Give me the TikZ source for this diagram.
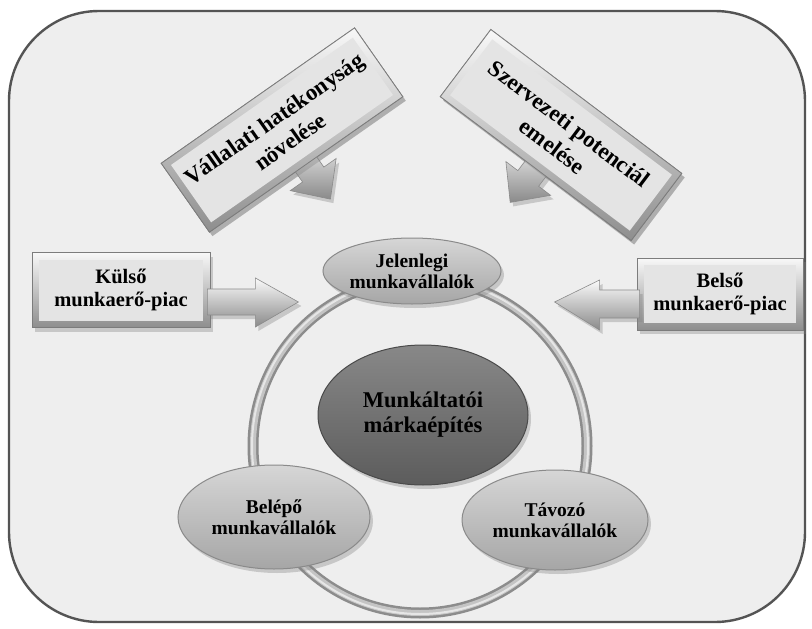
\documentclass[tikz,border=0pt]{standalone}
\usepackage{fontspec}
\setmainfont{Liberation Serif}
\usetikzlibrary{shadows,calc,shapes.geometric}
\definecolor{bgc}{HTML}{EEEEEE}
\definecolor{framec}{HTML}{545454}
\definecolor{facec}{HTML}{E4E4E4}
\definecolor{bevlight}{HTML}{F8F8F8}
\definecolor{bevdark}{HTML}{8E8E8E}
\definecolor{edgec}{HTML}{7C7C7C}
\definecolor{elltop}{HTML}{D6D6D6}
\definecolor{ellbot}{HTML}{A6A6A6}
\definecolor{ellrim}{HTML}{8A8A8A}
\definecolor{ctrtop}{HTML}{888888}
\definecolor{ctrbot}{HTML}{5C5C5C}
\definecolor{ringdark}{HTML}{8C8C8C}
\definecolor{ringmid}{HTML}{C4C4C4}
\definecolor{ringlight}{HTML}{E6E6E6}
\definecolor{arrlight}{HTML}{FAFAFA}
\definecolor{arrdark}{HTML}{8A8A8A}
\begin{document}
\begin{tikzpicture}[x=1pt,y=-1pt,
  shadowed/.style={drop shadow={opacity=0.35,shadow xshift=3pt,shadow yshift=-4pt}},
  boxouter/.style={rectangle,draw=edgec,line width=0.8pt,top color=bevlight,bottom color=bevdark,inner sep=0pt,shadowed},
  boxface/.style={rectangle,fill=facec,draw=none,inner sep=0pt,align=center,text=black},
  elltext/.style={font=\fontsize{19.5}{21}\selectfont\bfseries},
  boxtext/.style={font=\fontsize{20.5}{23}\selectfont\bfseries},
  rottext/.style={font=\fontsize{23}{28}\selectfont\bfseries},
  ctrtext/.style={font=\fontsize{22.5}{25}\selectfont\bfseries},
  ellnode/.style={ellipse,draw=ellrim,line width=1pt,top color=elltop,bottom color=ellbot,inner sep=0pt,align=center,shadowed},
  ctrnode/.style={ellipse,draw=ctrbot!80!black,line width=1pt,top color=ctrtop,bottom color=ctrbot,inner sep=0pt,align=center,shadowed},
  blockarrow/.style={draw=arrdark,line width=0.6pt,top color=arrlight,bottom color=arrdark,shadowed}
]
\useasboundingbox (0,0) rectangle (812,629);
\fill[white] (0,0) rectangle (812,629);
% frame
\draw[fill=bgc,draw=framec,line width=2.4pt,rounded corners=90pt] (9,11) rectangle (805,622);

% ring
\coordinate (rc) at (420,446);
\draw[ringdark,line width=11pt] (rc) circle[radius=167];
\draw[ringmid,line width=6pt] (rc) circle[radius=167];
\draw[ringlight,line width=2pt] (rc) circle[radius=168];

% ellipses
\node[ellnode,elltext,minimum width=178,minimum height=66] (jel) at (412,271) {Jelenlegi\\munkavállalók};
\node[ellnode,elltext,minimum width=192,minimum height=104] (bel) at (274,517) {Belépő\\munkavállalók};
\node[ellnode,elltext,minimum width=186,minimum height=100] (tav) at (555,520) {Távozó\\munkavállalók};
\node[ctrnode,ctrtext,minimum width=210,minimum height=140] (ctr) at (423,415) {Munkáltatói\\márkaépítés};

% left horizontal box
\node[boxouter,minimum width=178,minimum height=75] (kulso) at (121,290) {};
\node[boxface,boxtext,minimum width=164,minimum height=61] (kulsot) at (kulso) {Külső\\munkaerő-piac};
\draw[blockarrow]
  ($(kulso.east)+(-3,-1)$) -- ($(kulso.east)+(45,-1)$) -- ($(kulso.east)+(45,-12)$)
  -- ($(kulso.east)+(88,12)$) -- ($(kulso.east)+(45,37)$) -- ($(kulso.east)+(45,25)$)
  -- ($(kulso.east)+(-3,25)$) -- cycle;

% right horizontal box
\node[boxouter,minimum width=166,minimum height=72] (belso) at (720,294) {};
\node[boxface,boxtext,minimum width=152,minimum height=58] (belsot) at (belso) {Belső\\munkaerő-piac};
\draw[blockarrow]
  ($(belso.west)+(3,-4)$) -- ($(belso.west)+(-37,-4)$) -- ($(belso.west)+(-37,-14)$)
  -- ($(belso.west)+(-82,8)$) -- ($(belso.west)+(-37,36)$) -- ($(belso.west)+(-37,24)$)
  -- ($(belso.west)+(3,24)$) -- cycle;

% rotated box left: arrow first
\node[boxouter,rotate=35,minimum width=236,minimum height=84,drop shadow={opacity=0}] (vfo) at (282,130) {};
\begin{scope}[shift={(vfo.south)},rotate=-55]
  \draw[blockarrow,shading angle=0] (-30,-13) -- (12,-13) -- (12,-28) -- (42,0) -- (12,28) -- (12,13) -- (-30,13) -- cycle;
\end{scope}
\node[boxouter,rotate=35,minimum width=236,minimum height=84] (vf) at (282,130) {};
\node[boxface,rottext,rotate=35,minimum width=222,minimum height=70] (vft) at (vf) {Vállalati hatékonyság\\növelése};

% rotated box right
\node[boxouter,rotate=-37,minimum width=239,minimum height=84,drop shadow={opacity=0}] (szo) at (561,135) {};
\begin{scope}[shift={(szo.south)},rotate=-127]
  \draw[blockarrow] (-30,-13) -- (12,-13) -- (12,-28) -- (42,0) -- (12,28) -- (12,13) -- (-30,13) -- cycle;
\end{scope}
\node[boxouter,rotate=-37,minimum width=239,minimum height=84] (sz) at (561,135) {};
\node[boxface,rottext,rotate=-37,minimum width=225,minimum height=70] (szt) at (sz) {Szervezeti potenciál\\emelése};
\end{tikzpicture}
\end{document}
